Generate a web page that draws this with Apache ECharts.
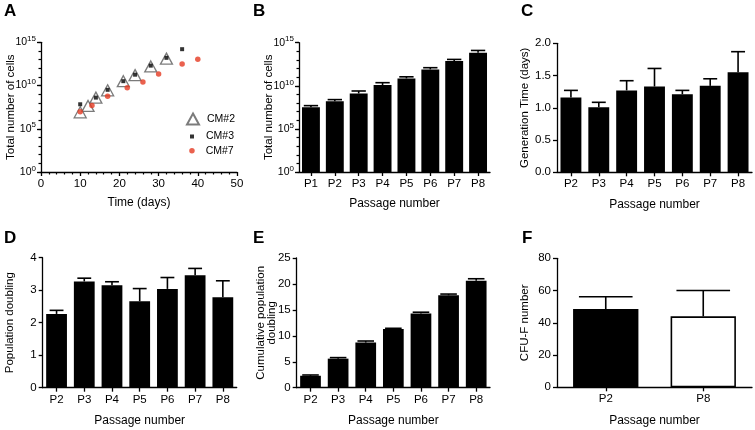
<!DOCTYPE html>
<html><head><meta charset="utf-8">
<script src="https://cdn.jsdelivr.net/npm/echarts@6/dist/echarts.min.js"></script>
<style>html,body{margin:0;padding:0;background:#fff}#c{width:755px;height:430px}</style>
</head><body><div id="c"></div><script>
// ---- Panel A: total cells vs time (three donors)
const timeCM2 = [10, 12, 14, 17, 21, 24, 28, 32];
const cellsCM2 = [8e6, 4.3e7, 4e8, 2.8e9, 3.2e10, 1.6e11, 1.6e12, 1.3e13];
const timeCM3 = [10, 14, 17, 21, 24, 28, 32, 36];
const cellsCM3 = [6.8e7, 4e8, 3.2e9, 3.2e10, 1.8e11, 2e12, 1.6e13, 1.6e14];
const timeCM7 = [10, 13, 17, 22, 26, 30, 36, 40];
const cellsCM7 = [9.3e6, 5e7, 5.6e8, 5.6e9, 2.5e10, 2.1e11, 3.1e12, 1.1e13];
// ---- Panel B: total cells per passage (mean, upper end of error bar)
const passB = ['P1', 'P2', 'P3', 'P4', 'P5', 'P6', 'P7', 'P8'];
const cellsB = [3.3e7, 1.6e8, 1.3e9, 1.2e10, 7.2e10, 8e11, 7.4e12, 6.9e13];
const cellsBUpper = [5e7, 2.5e8, 2.5e9, 2.3e10, 1.1e11, 1.26e12, 1.15e13, 1.26e14];
// ---- Panels C, D, E: passages P2..P8
const passCDE = ['P2', 'P3', 'P4', 'P5', 'P6', 'P7', 'P8'];
const genTime = [1.16, 1.01, 1.27, 1.33, 1.21, 1.34, 1.55];
const genTimeSD = [0.11, 0.075, 0.15, 0.28, 0.06, 0.11, 0.32];
const popDoubling = [2.27, 3.27, 3.15, 2.66, 3.04, 3.46, 2.78];
const popDoublingSD = [0.11, 0.10, 0.11, 0.39, 0.35, 0.21, 0.51];
const cumDoubling = [2.3, 5.6, 8.7, 11.3, 14.3, 17.8, 20.6];
const cumDoublingSD = [0.15, 0.2, 0.3, 0.15, 0.25, 0.25, 0.4];
// ---- Panel F: CFU-F
const passF = ['P2', 'P8'];
const cfu = [48.5, 44];
const cfuSD = [7.7, 16];

const FONT = "'Liberation Sans', Arial, Helvetica, sans-serif";
const BLACK = '#000';
const RED = '#e53a22';

const grids = [
  {left: 41, top: 42.3, width: 196, height: 129.7},
  {left: 299, top: 42.7, width: 191, height: 129.3},
  {left: 557, top: 43.3, width: 195, height: 129},
  {left: 42.7, top: 257.7, width: 194, height: 130},
  {left: 296.7, top: 258, width: 193.3, height: 129.7},
  {left: 557, top: 258.3, width: 195, height: 129}
];

const axisLine = {show: true, onZero: false, lineStyle: {color: BLACK, width: 1.3}};
const lbl = {color: BLACK, fontFamily: FONT, fontSize: 11.5};
const nameStyle = {color: BLACK, fontFamily: FONT, fontSize: 12};

function catX(gi, cats, nameGap) {
  return {type: 'category', gridIndex: gi, data: cats, position: 'bottom',
    axisLine, axisTick: {show: true, alignWithLabel: true, length: 4, lineStyle: {color: BLACK, width: 1.3}},
    axisLabel: Object.assign({margin: 6}, lbl),
    name: 'Passage number', nameLocation: 'middle', nameGap: nameGap, nameTextStyle: nameStyle,
    nameMoveOverlap: false, splitLine: {show: false}};
}
function valY(gi, min, max, interval, name, nameGap, fmt, lh) {
  return {type: 'value', gridIndex: gi, min, max, interval, position: 'left',
    axisLine, axisTick: {show: true, length: 4, lineStyle: {color: BLACK, width: 1.3}},
    axisLabel: Object.assign({margin: 6, formatter: fmt}, lbl),
    name, nameLocation: 'middle', nameGap, nameMoveOverlap: false,
    nameTextStyle: Object.assign({}, nameStyle, {fontSize: 11.5, lineHeight: lh || 14}),
    splitLine: {show: false}};
}
function logY(gi, name, nameGap) {
  return {type: 'log', logBase: 10, gridIndex: gi, min: 1, max: 1e15, interval: 5, position: 'left',
    axisLine, axisTick: {show: true, length: 4, lineStyle: {color: BLACK, width: 1.3}},
    axisLabel: {margin: 5, color: BLACK, fontFamily: FONT,
      formatter: v => '{b|10}{s|' + Math.round(Math.log10(v)) + '}',
      rich: {b: {fontSize: 10.5, fontFamily: FONT, color: BLACK},
             s: {fontSize: 8, fontFamily: FONT, color: BLACK, verticalAlign: 'bottom', padding: [0, 0, 7, 0]}}},
    name, nameLocation: 'middle', nameGap, nameMoveOverlap: false,
    nameTextStyle: Object.assign({}, nameStyle, {fontSize: 11.5}),
    splitLine: {show: false}};
}
// decade ticks (minor) overlay
function decadeY(gi) {
  return {type: 'value', gridIndex: gi, min: 0, max: 15, interval: 1, position: 'left',
    axisLine: {show: false}, axisTick: {show: true, length: 2.5, lineStyle: {color: BLACK, width: 1.2}},
    axisLabel: {show: false}, splitLine: {show: false}};
}

function errSeries(xi, yi, means, uppers, capRatio) {
  return {type: 'custom', xAxisIndex: xi, yAxisIndex: yi, z: 5, silent: true, animation: false,
    data: means.map((m, i) => [i, m, uppers[i]]),
    renderItem: (params, api) => {
      const i = api.value(0);
      const p0 = api.coord([i, api.value(1)]);
      const p1 = api.coord([i, api.value(2)]);
      const bw = api.coord([1, api.value(1)])[0] - api.coord([0, api.value(1)])[0];
      const hw = bw * capRatio / 2;
      return {type: 'group', children: [
        {type: 'line', shape: {x1: p0[0], y1: p0[1], x2: p1[0], y2: p1[1]}, style: {stroke: BLACK, lineWidth: 1.6}},
        {type: 'line', shape: {x1: p1[0] - hw, y1: p1[1], x2: p1[0] + hw, y2: p1[1]}, style: {stroke: BLACK, lineWidth: 1.6}}
      ]};
    }};
}

const xAxes = [
  {type: 'value', gridIndex: 0, min: 0, max: 50, interval: 10, position: 'bottom',
    axisLine, axisTick: {show: true, length: 4, lineStyle: {color: BLACK, width: 1.3}},
    minorTick: {show: true, splitNumber: 5, length: 2.5, lineStyle: {color: BLACK, width: 1.2}},
    axisLabel: Object.assign({margin: 6}, lbl), splitLine: {show: false},
    name: 'Time (days)', nameLocation: 'middle', nameGap: 25, nameMoveOverlap: false, nameTextStyle: nameStyle},
  catX(1, passB, 26),
  catX(2, passCDE, 26),
  catX(3, passCDE, 27),
  catX(4, passCDE, 27),
  catX(5, passF, 27)
];
// yAxis indices: 0 A log, 1 A decades, 2 B log, 3 B decades, 4 C, 5 D, 6 E, 7 F
const yAxes = [
  logY(0, 'Total number of cells', 24.5), decadeY(0),
  logY(1, 'Total number of cells', 24), decadeY(1),
  valY(2, 0, 2, 0.5, 'Generation Time (days)', 25.5, v => v.toFixed(1)),
  valY(3, 0, 4, 1, 'Population doubling', 25.7),
  valY(4, 0, 25, 5, 'Cumulative population\ndoubling', 19, undefined, 11.5),
  valY(5, 0, 80, 20, 'CFU-F number', 25.5)
];

const addSD = (m, s) => m.map((v, i) => v + s[i]);

const series = [
  {name: 'CM#2', type: 'scatter', xAxisIndex: 0, yAxisIndex: 0, symbol: 'triangle', symbolSize: [12, 11],
    itemStyle: {color: '#fff', borderColor: '#5a5a5a', borderWidth: 1.3}, z: 3,
    data: timeCM2.map((t, i) => [t, cellsCM2[i]])},
  {name: 'CM#3', type: 'scatter', xAxisIndex: 0, yAxisIndex: 0, symbol: 'rect', symbolSize: 4,
    itemStyle: {color: BLACK}, z: 4,
    data: timeCM3.map((t, i) => [t, cellsCM3[i]])},
  {name: 'CM#7', type: 'scatter', xAxisIndex: 0, yAxisIndex: 0, symbol: 'circle', symbolSize: 5.5,
    itemStyle: {color: RED}, z: 5,
    data: timeCM7.map((t, i) => [t, cellsCM7[i]])},
  // B
  {type: 'bar', xAxisIndex: 1, yAxisIndex: 2, data: cellsB, itemStyle: {color: BLACK}, barCategoryGap: '25%', silent: true},
  errSeries(1, 2, cellsB, cellsBUpper, 0.6),
  // C
  {type: 'bar', xAxisIndex: 2, yAxisIndex: 4, data: genTime, itemStyle: {color: BLACK}, barCategoryGap: '25%', silent: true},
  errSeries(2, 4, genTime, addSD(genTime, genTimeSD), 0.5),
  // D
  {type: 'bar', xAxisIndex: 3, yAxisIndex: 5, data: popDoubling, itemStyle: {color: BLACK}, barCategoryGap: '25%', silent: true},
  errSeries(3, 5, popDoubling, addSD(popDoubling, popDoublingSD), 0.5),
  // E
  {type: 'bar', xAxisIndex: 4, yAxisIndex: 6, data: cumDoubling, itemStyle: {color: BLACK}, barCategoryGap: '25%', silent: true},
  errSeries(4, 6, cumDoubling, addSD(cumDoubling, cumDoublingSD), 0.6),
  // F
  {type: 'bar', xAxisIndex: 5, yAxisIndex: 7, barCategoryGap: '33%', silent: true,
    data: [{value: cfu[0], itemStyle: {color: BLACK, borderColor: BLACK, borderWidth: 1.5}},
           {value: cfu[1], itemStyle: {color: '#fff', borderColor: BLACK, borderWidth: 1.6}}]},
  errSeries(5, 7, cfu, addSD(cfu, cfuSD), 0.55)
];

const legTxt = {color: BLACK, fontFamily: FONT, fontSize: 10.5};
const legends = [
  {data: ['CM#2'], left: 186, top: 112.5, padding: 0, itemWidth: 12, itemHeight: 11, selectedMode: false,
    textStyle: Object.assign({padding: [0, 0, 0, 3]}, legTxt)},
  {data: ['CM#3'], left: 190, top: 131, padding: 0, itemWidth: 4, itemHeight: 4, selectedMode: false,
    textStyle: Object.assign({padding: [0, 0, 0, 7]}, legTxt)},
  {data: ['CM#7'], left: 189.2, top: 145.2, padding: 0, itemWidth: 5.5, itemHeight: 5.5, selectedMode: false,
    textStyle: Object.assign({padding: [0, 0, 0, 6]}, legTxt)}
];

const letterStyle = {color: BLACK, fontFamily: FONT, fontSize: 17, fontWeight: 'bold'};
const letters = [['A', 4, 3], ['B', 253, 3], ['C', 521, 3], ['D', 4, 230], ['E', 253, 230], ['F', 522, 230]];

const chart = echarts.init(document.getElementById('c'), null, {renderer: 'canvas'});
chart.setOption({
  animation: false,
  backgroundColor: '#fff',
  title: letters.map(l => ({text: l[0], left: l[1], top: l[2], padding: 0, textStyle: letterStyle})),
  legend: legends,
  grid: grids,
  xAxis: xAxes,
  yAxis: yAxes,
  series
});
</script></body></html>
